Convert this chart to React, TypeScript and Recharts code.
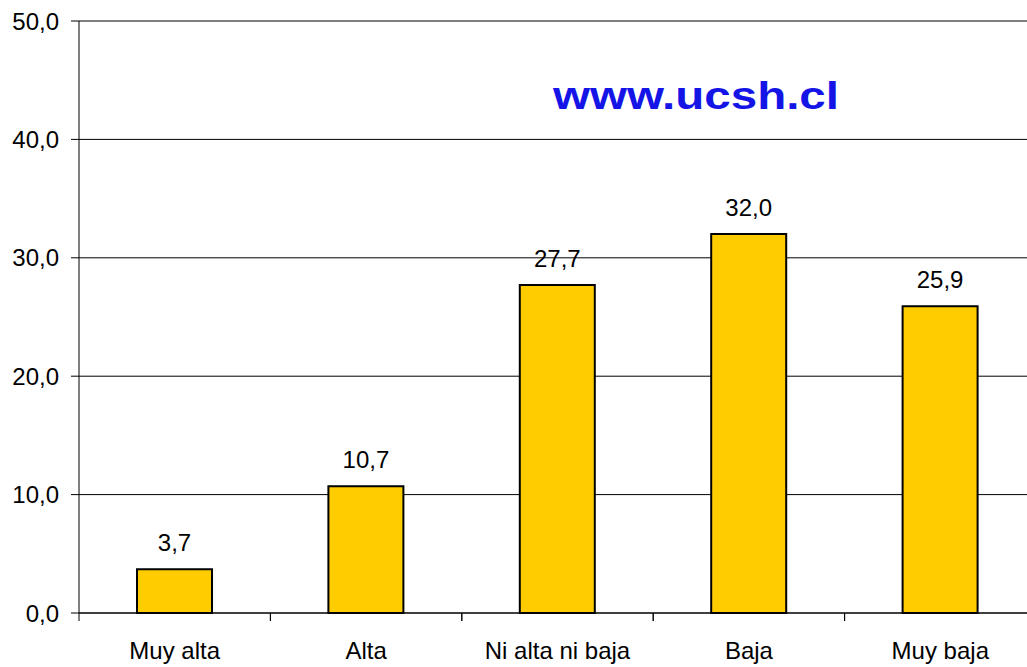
import { BarChart, Bar, XAxis, YAxis, CartesianGrid, LabelList } from "recharts";

const categories = ["Muy alta", "Alta", "Ni alta ni baja", "Baja", "Muy baja"];
const values = [3.7, 10.7, 27.7, 32.0, 25.9];
const yTicks = [0, 10, 20, 30, 40, 50];

const data = categories.map((name, i) => ({ name, value: values[i] }));

const fmt = (v: number) => Number(v).toFixed(1).replace(".", ",");
const font = "'Liberation Sans', Arial, sans-serif";

// category label plus a tick mark on the left edge of each band (Excel style)
function CategoryTick(props: any) {
  const { x, y, payload, width, visibleTicksCount } = props;
  const half = payload?.offset || width / visibleTicksCount / 2;
  const left = x - half;
  const right = x + half;
  return (
    <g>
      <line x1={left} x2={left} y1={y} y2={y + 8} stroke="#000" />
      <line x1={right} x2={right} y1={y} y2={y + 8} stroke="#000" />
      <text x={x} y={y + 29} dy="0.71em" textAnchor="middle" fill="#000" fontSize={24} fontFamily={font}>
        {payload.value}
      </text>
    </g>
  );
}

export default function App() {
  return (
    <div style={{ position: "absolute", left: 0, top: 0, width: 1027, height: 667, overflow: "hidden", background: "#fff" }}>
      <BarChart
        width={1036}
        height={667}
        data={data}
        margin={{ top: 21, right: 0, bottom: 0, left: 0 }}
      >
        <CartesianGrid horizontal vertical={false} stroke="#000" strokeWidth={1} />
        <XAxis
          dataKey="name"
          height={54}
          axisLine={{ stroke: "#000" }}
          tickLine={false}
          tickSize={0}
          tickMargin={0}
          interval={0}
          tick={<CategoryTick />}
        />
        <YAxis
          width={79}
          domain={[0, 50]}
          ticks={yTicks}
          tickFormatter={fmt}
          axisLine={{ stroke: "#000" }}
          tickLine={{ stroke: "#000" }}
          tickSize={8}
          tickMargin={12}
          tick={{ fill: "#000", fontSize: 24, fontFamily: font }}
        />
        <Bar
          dataKey="value"
          fill="#FFCC00"
          stroke="#000"
          strokeWidth={2}
          barSize={75}
          isAnimationActive={false}
        >
          <LabelList
            dataKey="value"
            position="top"
            offset={18}
            formatter={(v: any) => fmt(v)}
            style={{ fill: "#000", fontSize: 24, fontFamily: font }}
          />
        </Bar>
      </BarChart>
      <div
        style={{
          position: "absolute",
          left: 696,
          top: 96,
          transform: "translate(-50%, -50%) scaleX(1.25)",
          color: "#1414e6",
          fontFamily: font,
          fontWeight: "bold",
          fontSize: 38,
          whiteSpace: "nowrap",
        }}
      >
        www.ucsh.cl
      </div>
    </div>
  );
}
